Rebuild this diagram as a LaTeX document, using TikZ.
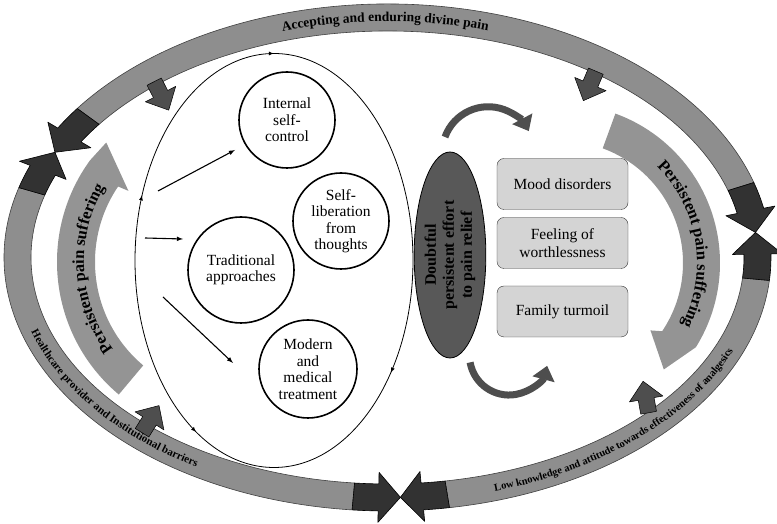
\documentclass[tikz,border=0pt]{standalone}
\usepackage{fontspec}
\setmainfont{Liberation Serif}
\usetikzlibrary{shapes.geometric,decorations.text,decorations.markings,arrows.meta}
\definecolor{ringgray}{RGB}{142,142,142}
\definecolor{bandgray}{RGB}{148,148,148}
\definecolor{headgray}{RGB}{50,50,50}
\definecolor{arrgray}{RGB}{78,78,78}
\definecolor{boxgray}{RGB}{212,212,212}
\definecolor{ovalgray}{RGB}{88,88,88}
\newcommand\blockarr[3]{\draw[smallarr,shift={(#1,#2)},rotate=#3] (-15,-8)--(-1,-8)--(-1,-17)--(17,0)--(-1,17)--(-1,8)--(-15,8)--cycle;}
\begin{document}
\begin{tikzpicture}[x=1pt,y=1pt,line join=round,
  band/.style={fill=ringgray,draw=black!75,line width=0.6pt},
  darkhead/.style={fill=headgray,draw=black,line width=0.6pt},
  inband/.style={fill=bandgray},
  smallarr/.style={fill=arrgray,draw=black,line width=0.5pt},
  bubble/.style={circle,draw,line width=1.6pt,align=center,inner sep=0pt,font=\fontsize{15.5}{16.5}\selectfont},
  sympt/.style={rectangle,rounded corners=7pt,draw=black!80,fill=boxgray,minimum width=131pt,minimum height=51pt,align=center,font=\fontsize{15.5}{18}\selectfont},
  curvarr/.style={draw=arrgray,line width=7pt,-{Triangle[length=14pt,width=22pt]}},
  thinarr/.style={->,>=latex,line width=1.1pt},
  along/.style 2 args={decorate,decoration={text along path,text align=center,text={|\bfseries\fontsize{#1}{#1}\selectfont|#2}}}]
\useasboundingbox (0,0) rectangle (777,524);
\begin{scope}[shift={(387.5,266.5)}]
\foreach \a/\b in {17.2/144, 164/264.7, 279.3/354.8}
  \path[band] (\a:383.5 and 253.5) arc[start angle=\a,end angle=\b,x radius=383.5,y radius=253.5] -- (\b:356.5 and 226.5) arc[start angle=\b,end angle=\a,x radius=356.5,y radius=226.5] -- cycle;
\foreach \p/\q/\tp in {144/149.3/154, 17.2/11.2/6, 164/158.7/154, 264.7/268.6/272, 279.3/275.4/272, 354.8/360.8/366}
  \path[darkhead] (\p:383.5 and 253.5) arc[start angle=\p,end angle=\q,x radius=383.5,y radius=253.5] -- (\q:395 and 265) -- (\tp:370 and 240) -- (\q:345 and 215) -- (\q:356.5 and 226.5) arc[start angle=\q,end angle=\p,x radius=356.5,y radius=226.5] -- cycle;
\path[along={13.5}{Accepting and enduring divine pain}] (150:366 and 236) arc[start angle=150,end angle=31,x radius=366,y radius=236];
\path[along={11}{Healthcare provider and Institutional barriers}] (181:374 and 244) arc[start angle=181,end angle=251,x radius=374,y radius=244];
\path[along={10.5}{Low knowledge and attitude towards effectiveness of analgesics}] (280:374 and 244) arc[start angle=280,end angle=347,x radius=374,y radius=244];
\end{scope}
\begin{scope}[shift={(230,262)}]
\path[inband] (230:173) arc[start angle=230,end angle=144,radius=173] -- (136:172) -- (145:124) -- (146:135) arc[start angle=146,end angle=230,radius=135] -- cycle;
\path[along={16.5}{Persistent pain suffering}] (241:146) arc[start angle=241,end angle=125,radius=146];
\end{scope}
\begin{scope}[shift={(561,261)}]
\path[inband] (70:159) arc[start angle=70,end angle=-32,radius=159] -- (-46:148) -- (-37:112) -- (-34:122) arc[start angle=-34,end angle=70,radius=122] -- cycle;
\path[along={16.5}{Persistent pain suffering}] (70:136) arc[start angle=70,end angle=-52,radius=136];
\end{scope}
\blockarr{161}{429}{-63}
\blockarr{590}{439}{-113}
\blockarr{150}{104}{58}
\blockarr{646}{126}{100}
\draw[line width=0.8pt,postaction={decorate,decoration={markings,
  mark=at position 0.25 with {\arrowreversed{latex}},
  mark=at position 0.44 with {\arrowreversed{latex}},
  mark=at position 0.67 with {\arrow{latex}},
  mark=at position 0.895 with {\arrowreversed{latex}}}}] (274,263.5) ellipse[x radius=139,y radius=207];
\node[bubble,minimum size=96pt] (intctl) at (287,404) {Internal\\self-\\control};
\node[bubble,minimum size=96pt] (selflib) at (341,303) {Self-\\liberation\\from\\thoughts};
\node[bubble,minimum size=106pt] (tradapp) at (241,254) {Traditional\\approaches};
\node[bubble,minimum size=98pt] (modmed) at (308,155) {Modern\\and\\medical\\treatment};
\coordinate (t1) at (158,333); \coordinate (h1) at (235,374);
\coordinate (t2) at (145,286); \coordinate (h2) at (183,285);
\coordinate (t3) at (163,227); \coordinate (h3) at (233,161);
\draw[thinarr] (t1) -- (h1);
\draw[thinarr] (t2) -- (h2);
\draw[thinarr] (t3) -- (h3);
\node[ellipse,draw=black,fill=ovalgray,line width=0.8pt,minimum width=206pt,minimum height=70pt,rotate=90,inner sep=0pt,align=center,font=\bfseries\fontsize{16}{18}\selectfont] (doubt) at (450,269) {Doubtful\\persistent effort\\to pain relief};
\node[sympt] (mood) at (562.5,340) {Mood disorders};
\node[sympt] (worth) at (562.5,281) {Feeling of\\worthlessness};
\node[sympt] (famtur) at (562.5,212.5) {Family turmoil};
\draw[curvarr] (445,387) arc[start angle=160,end angle=28,radius=46];
\draw[curvarr] (470.1,161.6) arc[start angle=190,end angle=345,radius=39.5];
\end{tikzpicture}
\end{document}
